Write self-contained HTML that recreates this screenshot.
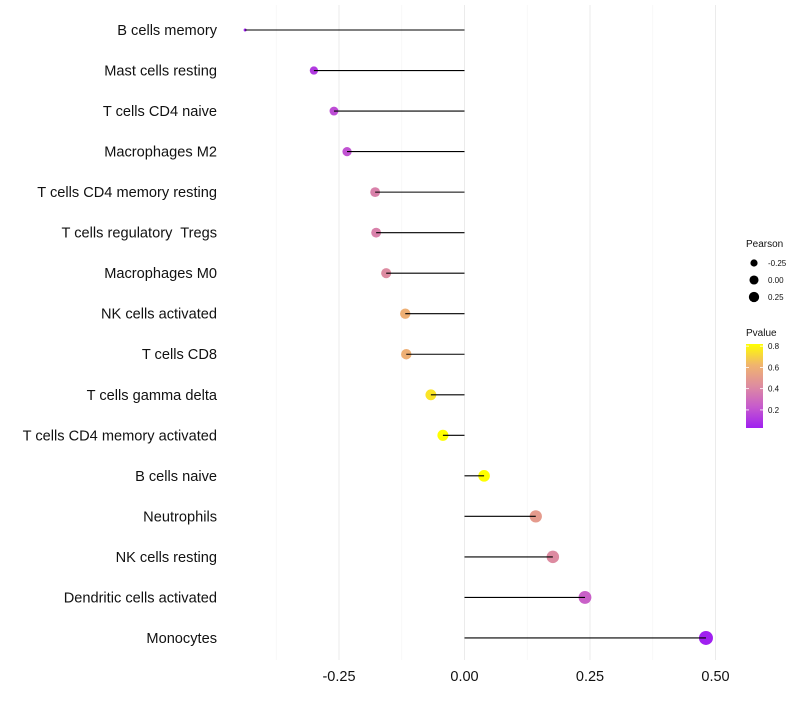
<!DOCTYPE html>
<html><head><meta charset="utf-8"><style>
body{margin:0;background:#fff;font-family:"Liberation Sans",sans-serif}
text{white-space:pre}
</style></head><body>
<svg id="chart" width="800" height="700" xmlns="http://www.w3.org/2000/svg"></svg>
<script>
const categories=["B cells memory","Mast cells resting","T cells CD4 naive","Macrophages M2","T cells CD4 memory resting","T cells regulatory  Tregs","Macrophages M0","NK cells activated","T cells CD8","T cells gamma delta","T cells CD4 memory activated","B cells naive","Neutrophils","NK cells resting","Dendritic cells activated","Monocytes"];
const pearson=[-0.437,-0.30,-0.26,-0.234,-0.178,-0.176,-0.156,-0.118,-0.116,-0.067,-0.043,0.039,0.142,0.176,0.24,0.481];
const pvalue=[0.03,0.12,0.18,0.2,0.38,0.38,0.42,0.6,0.6,0.75,0.82,0.82,0.5,0.42,0.25,0.03];
const xTicks=[-0.25,0,0.25,0.5];
const xTickLabels=["-0.25","0.00","0.25","0.50"];
const minorTicks=[-0.375,-0.125,0.125,0.375,0.625];
const sizeLegend=[-0.25,0,0.25];
const colorLegend=[0.2,0.4,0.6,0.8];

const svg=document.getElementById('chart');
const NS="http://www.w3.org/2000/svg";
const X=v=>464.5+v*502;
const Y=i=>30+i*40.53;
const pmin=Math.min(...pearson),pmax=Math.max(...pearson);
const R=v=>Math.sqrt(2.25+46.75*Math.pow(Math.max(0,(v-pmin)/(pmax-pmin)),0.6));
const stops=[[0,[160,32,240]],[0.25,[198,90,205]],[0.5,[222,140,160]],[0.75,[240,180,110]],[1,[255,255,0]]];
const C=p=>{let t=Math.max(0,Math.min(1,(p-0.03)/(0.82-0.03)));for(let k=1;k<stops.length;k++){if(t<=stops[k][0]){const a=stops[k-1],b=stops[k];const f=(t-a[0])/(b[0]-a[0]);return 'rgb('+a[1].map((c,j)=>Math.round(c+(b[1][j]-c)*f)).join(',')+')';}}return 'rgb(255,255,0)';};
function el(tag,attrs,parent){const e=document.createElementNS(NS,tag);for(const k in attrs)e.setAttribute(k,attrs[k]);(parent||svg).appendChild(e);return e;}

minorTicks.forEach(v=>{if(X(v)<735){const l=el('line',{x1:X(v),x2:X(v),y1:5,y2:660,stroke:'#f4f4f4','stroke-width':0.6});

}});
xTicks.forEach((v,i)=>{const l=el('line',{x1:X(v),x2:X(v),y1:5,y2:660,stroke:'#ebebeb','stroke-width':1});


const t=el('text',{x:X(v),y:681,'text-anchor':'middle','font-size':14.5,fill:'#111'});t.textContent=xTickLabels[i];

});

categories.forEach((c,i)=>{
const t=el('text',{x:217,y:Y(i)+5,'text-anchor':'end','font-size':14.6,fill:'#111'});t.textContent=c;


const d=el('circle',{cx:X(pearson[i]),cy:Y(i),r:R(pearson[i]),fill:C(pvalue[i])});


const l=el('line',{x1:X(0),x2:X(pearson[i]),y1:Y(i),y2:Y(i),stroke:'#000','stroke-width':1.1});


});

const lt=el('text',{x:746,y:247,'font-size':10,fill:'#111'});lt.textContent='Pearson';


sizeLegend.forEach((v,i)=>{const y=263+i*17;
const c=el('circle',{cx:754,cy:y,r:R(v)*0.8,fill:'#000'});


const t=el('text',{x:768,y:y+3,'font-size':8,fill:'#111'});t.textContent=v===0?'0.00':v.toFixed(2);

});

const ct=el('text',{x:746,y:336,'font-size':10,fill:'#111'});ct.textContent='Pvalue';


const defs=el('defs',{});const g=el('linearGradient',{id:'pg',x1:0,y1:1,x2:0,y2:0},defs);
stops.forEach(s=>el('stop',{offset:s[0],'stop-color':'rgb('+s[1].join(',')+')'},g));
const bar=el('rect',{x:746,y:344,width:17,height:84,fill:'url(#pg)'});


const CY=p=>428-(p-0.03)/(0.82-0.03)*84;
colorLegend.forEach(v=>{const y=CY(v);
el('line',{x1:746,x2:749,y1:y,y2:y,stroke:'#fff','stroke-width':0.8});
el('line',{x1:760,x2:763,y1:y,y2:y,stroke:'#fff','stroke-width':0.8});
const t=el('text',{x:768,y:y+3,'font-size':8,fill:'#111'});t.textContent=v.toFixed(1);

});
</script>
</body></html>
